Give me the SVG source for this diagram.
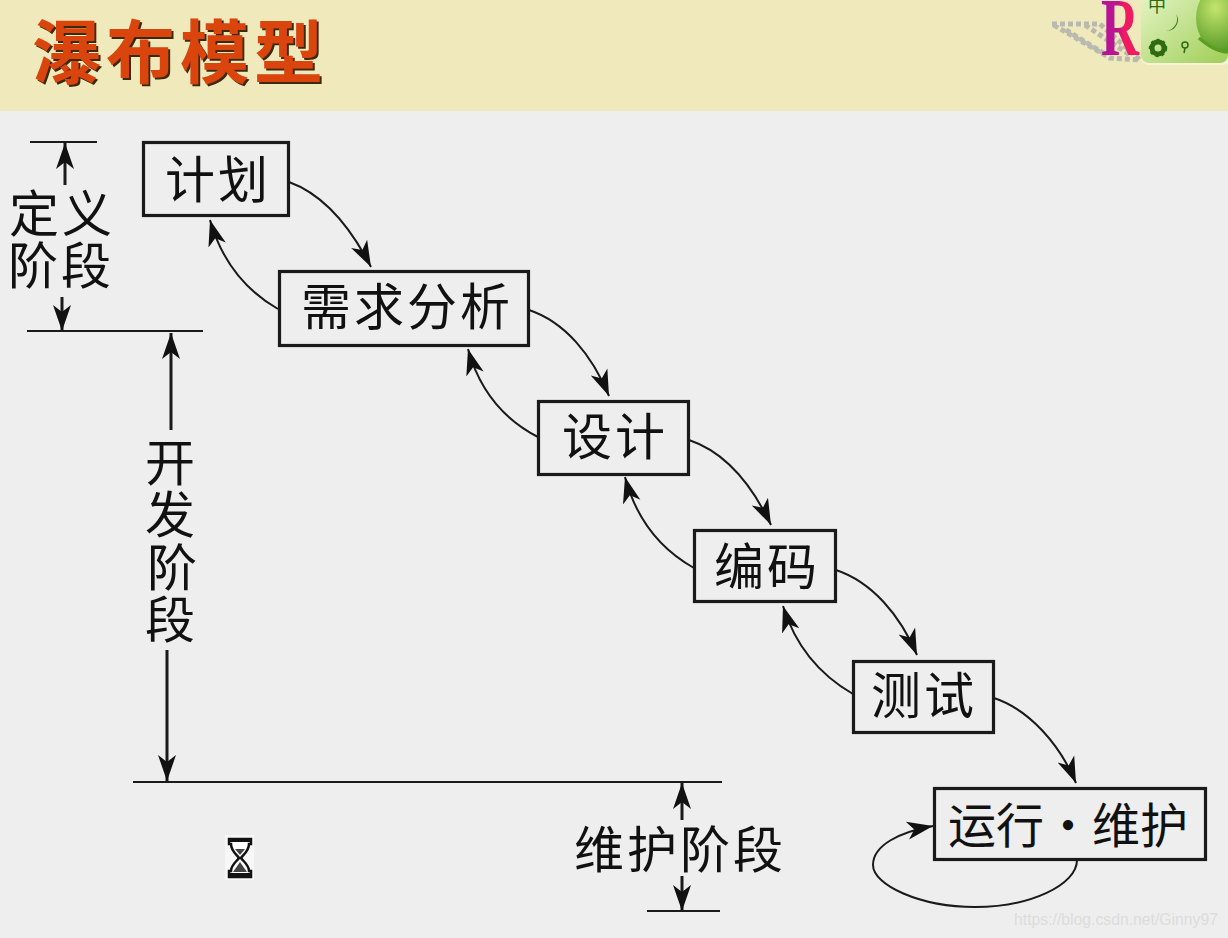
<svg xmlns="http://www.w3.org/2000/svg" width="1228" height="938" viewBox="0 0 1228 938">
<style>
.cn{font-family:"Noto Sans CJK SC","Noto Sans CJK JP",sans-serif;font-size:50px;fill:#111;text-anchor:middle;font-weight:400}
.sp{letter-spacing:3px}
.box{fill:#eeeeee;stroke:#1a1a1a;stroke-width:3.2}
.line{fill:none;stroke:#1a1a1a;stroke-width:2}
.dim{fill:none;stroke:#1a1a1a;stroke-width:3}
.rule{fill:none;stroke:#1a1a1a;stroke-width:2}
</style>
<defs>
<marker id="a" markerUnits="userSpaceOnUse" markerWidth="30" markerHeight="24" refX="26" refY="12" orient="auto"><path d="M0 3L26 12L0 21L7 12Z" fill="#111"/></marker>
<linearGradient id="g" x1="0" y1="0" x2="1" y2="1"><stop offset="0" stop-color="#e6f5c8"/><stop offset="1" stop-color="#9fce55"/></linearGradient>
<linearGradient id="r" x1="0" y1="0" x2="1" y2="0"><stop offset="0" stop-color="#b0149c"/><stop offset=".45" stop-color="#c0148c"/><stop offset=".6" stop-color="#f01a60"/><stop offset="1" stop-color="#f01a60"/></linearGradient>
<radialGradient id="b" cx=".35" cy=".35" r=".8"><stop offset="0" stop-color="#c4e56d"/><stop offset="1" stop-color="#3f8a18"/></radialGradient>
<clipPath id="c"><rect x="1141" y="-10" width="87" height="73" rx="8"/></clipPath>
<filter id="s" x="-5%" y="-10%" width="110%" height="120%"><feDropShadow dx="2" dy="2" stdDeviation="0.4" flood-color="#3a2a10"/></filter>
</defs>
<rect width="1228" height="938" fill="#eeeeee"/>
<rect width="1228" height="111" fill="#f0e9bb"/>
<g id="title">
<text x="180" y="78" font-family="'Noto Sans CJK SC',sans-serif" font-size="69" font-weight="700" letter-spacing="5" text-anchor="middle" fill="#d9440c" filter="url(#s)">瀑布模型</text>
</g>
<g id="decor">
<path d="M1052 24L1100 24L1140 60L1110 58Z" fill="none" stroke="#b9b9b0" stroke-width="5" stroke-dasharray="5 3" stroke-linejoin="round"/>
<path d="M1066 30L1105 54M1085 25L1130 55" stroke="#b9b9b0" stroke-width="5" stroke-dasharray="5 3" fill="none"/>
<text x="1101" y="55" font-family="'Liberation Serif',serif" font-size="82" font-weight="700" fill="url(#r)" textLength="38" lengthAdjust="spacingAndGlyphs">R</text>
<rect x="1141" y="-10" width="90" height="75" rx="8" fill="#f6f3dd"/>
<rect x="1141" y="-10" width="87" height="73" rx="8" fill="url(#g)"/>
<g clip-path="url(#c)">
<ellipse cx="1224" cy="18" rx="28" ry="34" fill="url(#b)"/>
<path d="M1199 38Q1215 52 1228 52" fill="none" stroke="#5c9e22" stroke-width="3"/>
</g>
<text x="1157" y="12" font-family="'Noto Sans CJK SC',sans-serif" font-size="18" fill="#2f6b12" text-anchor="middle">中</text>
<path d="M1176 14A11 11 0 0 1 1166 31A12 12 0 0 0 1176 14Z" fill="#2f6b12"/>
<circle cx="1158" cy="48" r="6" fill="none" stroke="#2f6b12" stroke-width="5"/>
<circle cx="1158" cy="48" r="8" fill="none" stroke="#2f6b12" stroke-width="2.5" stroke-dasharray="3 3"/>
<circle cx="1185" cy="45" r="3" fill="none" stroke="#2f6b12" stroke-width="1.5"/>
<path d="M1185 48L1184 53" stroke="#2f6b12" stroke-width="1.5"/>
</g>
<g id="connectors">
<path class="line" marker-end="url(#a)" d="M289 182C325 195 352 230 371 267"/>
<path class="line" marker-end="url(#a)" d="M278 309C245 290 222 262 210 220"/>
<path class="line" marker-end="url(#a)" d="M529 310C565 322 592 355 609 396"/>
<path class="line" marker-end="url(#a)" d="M538 437C505 420 480 392 468 349"/>
<path class="line" marker-end="url(#a)" d="M689 440C725 452 752 485 771 525"/>
<path class="line" marker-end="url(#a)" d="M694 568C662 550 637 522 625 477"/>
<path class="line" marker-end="url(#a)" d="M836 570C872 582 900 615 917 655"/>
<path class="line" marker-end="url(#a)" d="M853 694C820 675 796 648 783 606"/>
<path class="line" marker-end="url(#a)" d="M994 698C1030 710 1060 745 1076 783"/>
<path class="line" marker-end="url(#a)" d="M1077 860C1077 885 1030 907 975 907C920 907 873 885 873 865C873 845 900 832 933 826"/>
<path class="rule" d="M30 142H97M27 331H203M133 782H722M647 911H720"/>
<path class="dim" marker-end="url(#a)" d="M65 185V143"/>
<path class="dim" marker-end="url(#a)" d="M62 297V331"/>
<path class="dim" marker-end="url(#a)" d="M171 430V333"/>
<path class="dim" marker-end="url(#a)" d="M167 650V781"/>
<path class="dim" marker-end="url(#a)" d="M682 820V783"/>
<path class="dim" marker-end="url(#a)" d="M682 876V911"/>
</g>
<g id="n1"><rect class="box" x="143.500" y="142.500" width="145" height="73"/><text class="cn sp" x="218" y="198">计划</text></g>
<g id="n2"><rect class="box" x="279.500" y="271.500" width="249" height="74"/><text class="cn sp" x="407" y="325">需求分析</text></g>
<g id="n3"><rect class="box" x="538.500" y="401.500" width="150" height="73"/><text class="cn sp" x="615" y="455">设计</text></g>
<g id="n4"><rect class="box" x="694.500" y="530.500" width="141" height="71"/><text class="cn sp" x="767" y="585">编码</text></g>
<g id="n5"><rect class="box" x="853.500" y="661.500" width="140" height="71"/><text class="cn sp" x="924" y="714">测试</text></g>
<g id="n6"><rect class="box" x="934.500" y="788.500" width="271" height="71"/><text class="cn" x="1068" y="843" style="font-size:48px">运行·维护</text></g>
<g id="phase1"><text class="cn sp" x="62" y="232">定义</text><text class="cn sp" x="61" y="284">阶段</text></g>
<g id="phase2"><text class="cn" x="170" y="481">开</text><text class="cn" x="170" y="533">发</text><text class="cn" x="172" y="586">阶</text><text class="cn" x="170" y="638">段</text></g>
<g id="phase3"><text class="cn sp" x="680" y="868">维护阶段</text></g>
<g id="hourglass">
<rect x="225" y="835" width="29" height="45" fill="#fff" opacity=".5"/>
<path d="M229 839H251V844H249C249 851 243 855 241 858C243 861 249 865 249 871H251V877H229V871H231C231 865 237 861 239 858C237 855 231 851 231 844H229Z" fill="#fff" stroke="#111" stroke-width="2.500"/>
<path d="M229 840H251M229 875H251" stroke="#111" stroke-width="4"/>
<path d="M235 849H245L240 855ZM233 872L240 862L247 872Z" fill="#444"/>
</g>
<text id="watermark" x="1014" y="925" font-family="'Liberation Sans',sans-serif" font-size="15.750" fill="#dcdcdc">https://blog.csdn.net/Ginny97</text>
</svg>
